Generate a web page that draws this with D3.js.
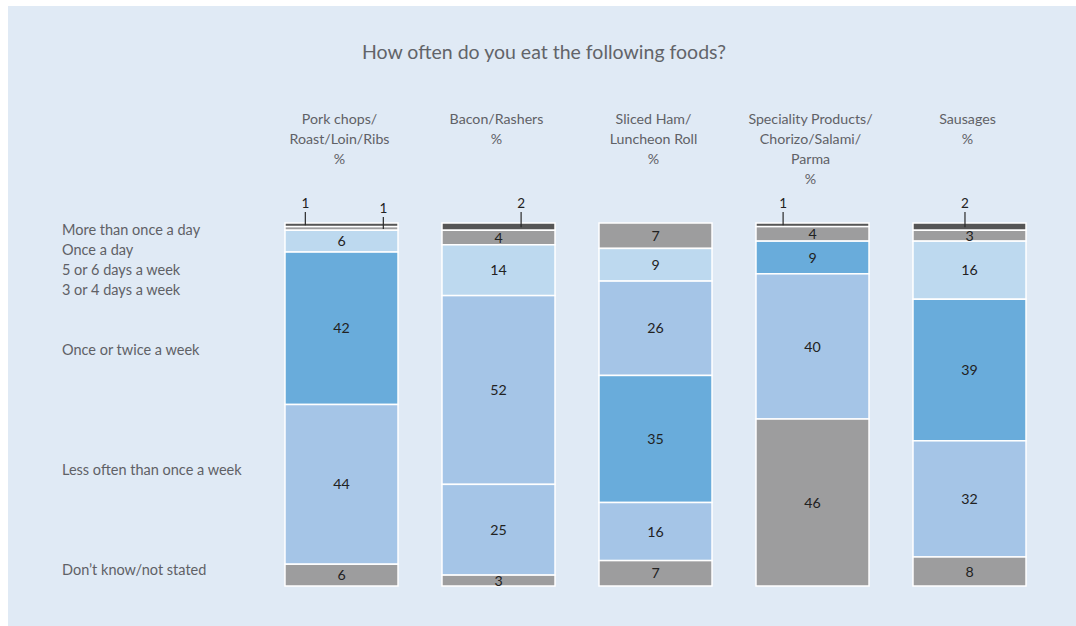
<!DOCTYPE html>
<html>
<head>
<meta charset="utf-8">
<script src="https://cdn.jsdelivr.net/npm/d3@7"></script>
<style>
  html, body { margin: 0; padding: 0; background: #ffffff; }
  svg { display: block; }
  text { font-family: Lato, "Open Sans", sans-serif; }
</style>
</head>
<body>
<svg id="chart" width="1076" height="626"></svg>
<script>
// Foods (column headings, one entry per line)
const foods = ["pork", "bacon", "ham", "speciality", "sausages"];
const foodHeadings = [
  ["Pork chops/", "Roast/Loin/Ribs", "%"],
  ["Bacon/Rashers", "%"],
  ["Sliced Ham/", "Luncheon Roll", "%"],
  ["Speciality Products/", "Chorizo/Salami/", "Parma", "%"],
  ["Sausages", "%"]
];

// Frequency answers listed down the left side
const frequencies = [
  "More than once a day",
  "Once a day",
  "5 or 6 days a week",
  "3 or 4 days a week",
  "Once or twice a week",
  "Less often than once a week",
  "Don\u2019t know/not stated"
];

// Stacked shares per food, from the top of each bar down (%)
const porkValues       = [1, 1, 6, 42, 44, 6];
const baconValues      = [2, 4, 14, 52, 25, 3];
const hamValues        = [7, 9, 26, 35, 16, 7];
const specialityValues = [1, 4, 9, 40, 46];
const sausageValues    = [2, 3, 16, 39, 32, 8];

// Shade key for each segment, same order as the values
const porkShades       = ["dark", "grey", "light", "strong", "mid", "grey"];
const baconShades      = ["dark", "grey", "light", "mid", "mid", "grey"];
const hamShades        = ["grey", "light", "mid", "strong", "mid", "grey"];
const specialityShades = ["dark", "grey", "strong", "mid", "grey"];
const sausageShades    = ["dark", "grey", "light", "strong", "mid", "grey"];

const seriesValues = [porkValues, baconValues, hamValues, specialityValues, sausageValues];
const seriesShades = [porkShades, baconShades, hamShades, specialityShades, sausageShades];

// ---- styling / layout ----
const shade = d3.scaleOrdinal()
  .domain(["dark", "grey", "light", "mid", "strong"])
  .range(["#565656", "#9d9d9e", "#bdd9ef", "#a5c5e7", "#69acdb"]);

const W = 1076, H = 626;
const svg = d3.select("#chart");

svg.append("rect")
  .attr("x", 8).attr("y", 6)
  .attr("width", W - 8).attr("height", H - 6)
  .attr("fill", "#e0eaf5");

const x = d3.scaleBand()
  .domain(foods)
  .range([263, 1048])
  .paddingInner(0.28)
  .paddingOuter(0.14);

const y = d3.scaleLinear().domain([0, 100]).range([223, 586]);

// Title
svg.append("text")
  .attr("x", 544).attr("y", 59)
  .attr("text-anchor", "middle")
  .attr("font-size", 19.5)
  .attr("fill", "#626469")
  .text("How often do you eat the following foods?");

// Column headings
foods.forEach((f, i) => {
  const t = svg.append("text")
    .attr("text-anchor", "middle")
    .attr("font-size", 14.2)
    .attr("fill", "#5f6166");
  foodHeadings[i].forEach((line, j) => {
    t.append("tspan")
      .attr("x", x(f) + x.bandwidth() / 2 - 2)
      .attr("y", 124 + j * 20)
      .text(line);
  });
});

// Row labels on the left
const rowBaselines = [235, 255, 275, 295, 355, 475, 575];
svg.append("g")
  .selectAll("text")
  .data(frequencies)
  .join("text")
  .attr("x", 62)
  .attr("y", (d, i) => rowBaselines[i])
  .attr("font-size", 14.5)
  .attr("fill", "#5f6166")
  .text(d => d);

// Callout placement for slivers too thin to hold a label (fraction across the bar)
const calloutAt = {
  pork: [0.18, 0.87],
  bacon: [0.70],
  speciality: [0.24],
  sausages: [0.46]
};

foods.forEach((f, i) => {
  const vals = seriesValues[i];
  const shades = seriesShades[i];
  const starts = d3.cumsum([0].concat(vals)).slice(0, vals.length);
  const segs = vals.map((v, k) => ({ v, s: shades[k], y0: starts[k], y1: starts[k] + v }));

  const g = svg.append("g");
  g.selectAll("rect")
    .data(segs)
    .join("rect")
    .attr("x", x(f))
    .attr("width", x.bandwidth())
    .attr("y", d => y(d.y0))
    .attr("height", d => y(d.y1) - y(d.y0))
    .attr("fill", d => shade(d.s))
    .attr("stroke", "#ffffff")
    .attr("stroke-width", 1.5);

  let c = 0;
  segs.forEach(d => {
    const mid = (y(d.y0) + y(d.y1)) / 2;
    if (d.v < 3) {
      const frac = calloutAt[f][c];
      const cx = x(f) + x.bandwidth() * frac;
      const top = 212 + c * 5;
      g.append("line")
        .attr("x1", cx).attr("x2", cx)
        .attr("y1", top).attr("y2", mid + 0.5)
        .attr("stroke", "#2a2a2a").attr("stroke-width", 1.2);
      g.append("text")
        .attr("x", cx).attr("y", top - 4)
        .attr("text-anchor", "middle")
        .attr("font-size", 13.5)
        .attr("fill", "#222")
        .text(d.v);
      c++;
    } else {
      g.append("text")
        .attr("x", x(f) + x.bandwidth() / 2)
        .attr("y", mid)
        .attr("dy", "0.36em")
        .attr("text-anchor", "middle")
        .attr("font-size", 14.2)
        .attr("fill", "#222")
        .text(d.v);
    }
  });
});
</script>
</body>
</html>
